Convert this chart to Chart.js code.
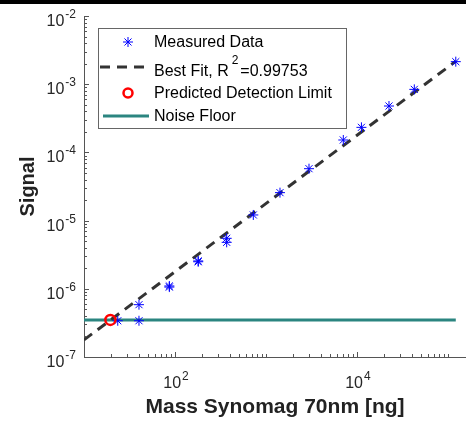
<!DOCTYPE html>
<html>
<head>
<meta charset="utf-8">
<script src="https://cdn.jsdelivr.net/npm/chart.js@4.4.0/dist/chart.umd.min.js"></script>
<style>
    html, body { margin: 0; padding: 0; background: #fff; }
    canvas { display: block; }
</style>
</head>
<body>
<canvas id="signalChart" width="466" height="421"></canvas>
<script>
// Measured points: mass [ng] and signal
const massNg = [23.5, 40.2, 40.2, 86.7, 86.7, 180, 180, 370, 370, 726, 1426, 2972, 7080, 11200, 22500, 42700, 122000];
const signal = [3.4e-7, 3.4e-7, 5.85e-7, 1.1e-6, 1.06e-6, 2.49e-6, 2.56e-6, 5.5e-6, 4.8e-6, 1.21e-5, 2.57e-5, 5.77e-5, 1.52e-4, 2.33e-4, 4.79e-4, 8.4e-4, 2.14e-3];

// Best fit line end points
const fitMass = [10, 122000];
const fitSignal = [1.78e-7, 2.17e-3];

// Predicted detection limit
const limitMass = [19.5];
const limitSignal = [3.5e-7];

// Noise floor
const noiseMass = [10, 122000];
const noiseSignal = [3.5e-7, 3.5e-7];

const seriesNames = ['Measured Data', 'Best Fit, R', 'Predicted Detection Limit', 'Noise Floor'];
const fitR2 = '0.99753';

// tick decades (exponents)
const xDecades = [1, 2, 3, 4, 5];
const xLabelled = [2, 4];
const yDecades = [-7, -6, -5, -4, -3, -2];

const FONT = '"Liberation Sans", Arial, Helvetica, sans-serif';
const blue = '#0000ff';
const fitColor = '#333333';
const red = '#ff0000';
const teal = '#2b8580';

const toPoints = (xs, ys) => xs.map((x, i) => ({ x: x, y: ys[i] }));

// draw "10^exp" with a raised exponent
function drawPow(ctx, exp, x, baseY, align) {
    ctx.font = '16px ' + FONT;
    const wBase = ctx.measureText('10').width;
    ctx.font = '12px ' + FONT;
    const wExp = ctx.measureText(String(exp)).width;
    const total = wBase + 1 + wExp;
    let left = x;
    if (align === 'right') left = x - total;
    if (align === 'center') left = x - total / 2;
    ctx.textAlign = 'left';
    ctx.textBaseline = 'alphabetic';
    ctx.font = '16px ' + FONT;
    ctx.fillText('10', left, baseY);
    ctx.font = '12px ' + FONT;
    ctx.fillText(String(exp), left + wBase + 1, baseY - 8);
}

function asterisk(ctx, x, y, r) {
    ctx.beginPath();
    for (let k = 0; k < 4; k++) {
        const a = k * Math.PI / 4;
        ctx.moveTo(x - Math.cos(a) * r, y - Math.sin(a) * r);
        ctx.lineTo(x + Math.cos(a) * r, y + Math.sin(a) * r);
    }
    ctx.stroke();
}

const axesPlugin = {
    id: 'matlabAxes',
    beforeDraw(chart) {
        const ctx = chart.ctx;
        ctx.save();
        ctx.fillStyle = '#fff';
        ctx.fillRect(0, 0, chart.width, chart.height);
        ctx.fillStyle = '#000';
        ctx.fillRect(0, 0, chart.width, 4);
        ctx.restore();
    },
    afterDatasetsDraw(chart) {
        const ctx = chart.ctx;
        const xs = chart.scales.x, ys = chart.scales.y;
        const area = chart.chartArea;
        ctx.save();
        ctx.strokeStyle = '#555';
        ctx.lineWidth = 1;

        // y ticks (inside)
        yDecades.forEach(e => {
            for (let k = 1; k <= 9; k++) {
                if (e === yDecades[yDecades.length - 1] && k > 1) break;
                const py = Math.round(ys.getPixelForValue(k * Math.pow(10, e))) + 0.5;
                const len = k === 1 ? 5 : 3;
                ctx.beginPath();
                ctx.moveTo(area.left, py);
                ctx.lineTo(area.left + len, py);
                ctx.stroke();
            }
        });
        // x ticks (inside)
        xDecades.forEach(e => {
            for (let k = 1; k <= 9; k++) {
                const v = k * Math.pow(10, e);
                if (v > xs.max) break;
                const px = Math.round(xs.getPixelForValue(v)) + 0.5;
                const len = (k === 1 && xLabelled.includes(e)) ? 5 : 3;
                ctx.beginPath();
                ctx.moveTo(px, area.bottom);
                ctx.lineTo(px, area.bottom - len);
                ctx.stroke();
            }
        });

        // tick labels
        ctx.fillStyle = '#262626';
        yDecades.forEach(e => {
            const py = ys.getPixelForValue(Math.pow(10, e));
            drawPow(ctx, e, area.left - 8, py + 10, 'right');
        });
        xLabelled.forEach(e => {
            const px = xs.getPixelForValue(Math.pow(10, e));
            drawPow(ctx, e, px + 1, area.bottom + 31, 'center');
        });

        // legend
        const box = { l: 98.5, t: 28.5, r: 346.5, b: 128.5 };
        ctx.fillStyle = '#fff';
        ctx.fillRect(box.l, box.t, box.r - box.l, box.b - box.t);
        ctx.strokeStyle = '#666';
        ctx.lineWidth = 1;
        ctx.strokeRect(box.l, box.t, box.r - box.l, box.b - box.t);

        const ds = chart.data.datasets;
        // measured
        ctx.strokeStyle = ds[0].borderColor;
        ctx.lineWidth = 1;
        asterisk(ctx, 128, 42, 5);
        // fit
        ctx.strokeStyle = ds[1].borderColor;
        ctx.lineWidth = ds[1].borderWidth;
        ctx.setLineDash(ds[1].borderDash);
        ctx.beginPath();
        ctx.moveTo(100, 67);
        ctx.lineTo(151, 67);
        ctx.stroke();
        ctx.setLineDash([]);
        // detection limit
        ctx.strokeStyle = ds[2].borderColor;
        ctx.lineWidth = ds[2].borderWidth;
        ctx.beginPath();
        ctx.arc(128, 93, 4.5, 0, Math.PI * 2);
        ctx.stroke();
        // noise floor
        ctx.strokeStyle = ds[3].borderColor;
        ctx.lineWidth = ds[3].borderWidth;
        ctx.beginPath();
        ctx.moveTo(103, 116);
        ctx.lineTo(149, 116);
        ctx.stroke();

        ctx.fillStyle = '#000';
        ctx.textAlign = 'left';
        ctx.textBaseline = 'alphabetic';
        ctx.font = '16px ' + FONT;
        ctx.fillText(seriesNames[0], 154, 47);
        ctx.fillText(seriesNames[1], 154, 76);
        const w1 = ctx.measureText(seriesNames[1]).width;
        ctx.font = '12px ' + FONT;
        ctx.fillText('2', 154 + w1 + 3, 64);
        const w2 = ctx.measureText('2').width;
        ctx.font = '16px ' + FONT;
        ctx.fillText('=' + fitR2, 154 + w1 + 3 + w2 + 2, 76);
        ctx.fillText(seriesNames[2], 154, 98);
        ctx.fillText(seriesNames[3], 154, 121);
        ctx.restore();
    }
};

new Chart(document.getElementById('signalChart'), {
    type: 'scatter',
    data: {
        datasets: [
            {
                label: seriesNames[0],
                data: toPoints(massNg, signal),
                pointStyle: 'star',
                pointRadius: 5,
                pointBorderWidth: 1,
                borderColor: blue,
                backgroundColor: blue,
                showLine: false,
                order: 2
            },
            {
                label: seriesNames[1],
                data: toPoints(fitMass, fitSignal),
                showLine: true,
                borderColor: fitColor,
                borderWidth: 3,
                borderDash: [10, 7],
                pointRadius: 0,
                order: 3
            },
            {
                label: seriesNames[2],
                data: toPoints(limitMass, limitSignal),
                pointStyle: 'circle',
                pointRadius: 5,
                pointBorderWidth: 2.5,
                borderColor: red,
                borderWidth: 2.5,
                backgroundColor: 'rgba(0,0,0,0)',
                showLine: false,
                order: 1
            },
            {
                label: seriesNames[3],
                data: toPoints(noiseMass, noiseSignal),
                showLine: true,
                borderColor: teal,
                borderWidth: 3,
                pointRadius: 0,
                order: 4
            }
        ]
    },
    options: {
        responsive: false,
        animation: false,
        devicePixelRatio: 1,
        layout: { autoPadding: false, padding: { top: 16, right: 0, bottom: 0, left: 0 } },
        plugins: {
            legend: { display: false },
            tooltip: { enabled: false }
        },
        scales: {
            x: {
                type: 'logarithmic',
                min: 10,
                max: 158000,
                grid: { display: false },
                border: { display: true, color: '#555', width: 1 },
                ticks: { display: false },
                title: {
                    display: true,
                    text: 'Mass Synomag 70nm [ng]',
                    color: '#222',
                    font: { family: FONT, size: 21, weight: 'bold' },
                    padding: { top: 0, bottom: 1 }
                },
                afterFit(s) { s.height = 64; }
            },
            y: {
                type: 'logarithmic',
                min: 1e-7,
                max: 1e-2,
                grid: { display: false },
                border: { display: true, color: '#555', width: 1 },
                ticks: { display: false },
                title: {
                    display: true,
                    text: 'Signal',
                    color: '#222',
                    font: { family: FONT, size: 20, weight: 'bold' },
                    padding: { top: 16, bottom: 0 }
                },
                afterFit(s) { s.width = 84; }
            }
        }
    },
    plugins: [axesPlugin]
});
</script>
</body>
</html>
